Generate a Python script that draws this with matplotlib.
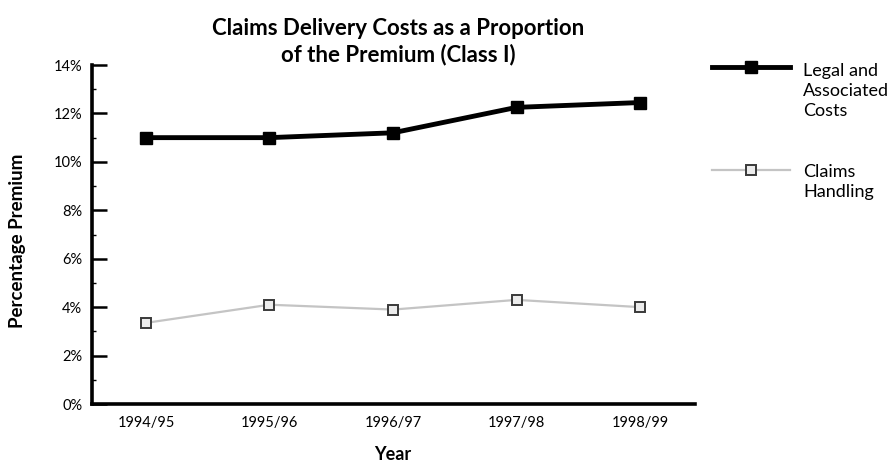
import matplotlib
matplotlib.use("Agg")
import matplotlib.pyplot as plt
from matplotlib.lines import Line2D
from matplotlib.ticker import MultipleLocator, FuncFormatter

years = ["1994/95", "1995/96", "1996/97", "1997/98", "1998/99"]
legal = [11.0, 11.0, 11.2, 12.25, 12.45]
claims = [3.35, 4.1, 3.9, 4.3, 4.0]
legal_label = "Legal and\nAssociated\nCosts"
claims_label = "Claims\nHandling"
title = "Claims Delivery Costs as a Proportion\nof the Premium (Class I)"

plt.rcParams['font.family'] = ['Lato', 'DejaVu Sans']

W, H = 891, 462
fig = plt.figure(figsize=(W / 100, H / 100), dpi=100)
ax = fig.add_axes([92 / W, 1 - 404 / H, (695 - 92) / W, (404 - 65) / H])

x = list(range(len(years)))
ax.plot(x, claims, color="#c4c4c4", lw=1.6, marker="s", ms=7,
        mfc="#ececec", mec="#3a3a3a", mew=1.4, zorder=3, clip_on=False)
ax.plot(x, legal, color="black", lw=3.5, marker="s", ms=8.5,
        mfc="black", mec="black", zorder=4, clip_on=False)

ax.set_xlim(-0.437, 4.445)
ax.set_ylim(0, 14)
ax.set_xticks(x)
ax.set_xticklabels(years)
ax.yaxis.set_major_locator(MultipleLocator(2))
ax.yaxis.set_minor_locator(MultipleLocator(1))
ax.yaxis.set_major_formatter(FuncFormatter(lambda v, p: f"{int(round(v))}%"))

for s in ["top", "right"]:
    ax.spines[s].set_visible(False)
for s in ["left", "bottom"]:
    ax.spines[s].set_linewidth(2.6)
    ax.spines[s].set_color("black")

ax.tick_params(axis="x", length=0, pad=9, labelsize=10.5)
ax.tick_params(axis="y", which="major", direction="in", length=11, width=1.8,
               pad=7, labelsize=10.5)
ax.tick_params(axis="y", which="minor", direction="in", length=3, width=1.0)

fig.text(398 / W, 1 - 42 / H, title, ha="center", va="center",
         fontsize=16, fontweight="bold", linespacing=1.25)
fig.text(393 / W, 1 - 454 / H, "Year", ha="center", va="center",
         fontsize=13, fontweight="bold")
fig.text(18 / W, 1 - 241 / H, "Percentage Premium", ha="center", va="center",
         rotation=90, fontsize=13.5, fontweight="bold")

# legend
fig.add_artist(Line2D([712 / W, 790 / W], [1 - 67 / H, 1 - 67 / H],
                      transform=fig.transFigure, color="black", lw=3.5))
fig.add_artist(Line2D([751 / W], [1 - 67 / H], transform=fig.transFigure,
                      marker="s", ms=8.5, color="black", lw=0))
fig.text(803 / W, 1 - 91 / H, legal_label, ha="left", va="center",
         fontsize=13, linespacing=1.3)
fig.add_artist(Line2D([712 / W, 790 / W], [1 - 170 / H, 1 - 170 / H],
                      transform=fig.transFigure, color="#c4c4c4", lw=1.6))
fig.add_artist(Line2D([751 / W], [1 - 170 / H], transform=fig.transFigure,
                      marker="s", ms=7, mfc="#ececec", mec="#3a3a3a", mew=1.4, lw=0))
fig.text(803 / W, 1 - 182 / H, claims_label, ha="left", va="center",
         fontsize=13, linespacing=1.3)

fig.savefig("out.png", dpi=100)
